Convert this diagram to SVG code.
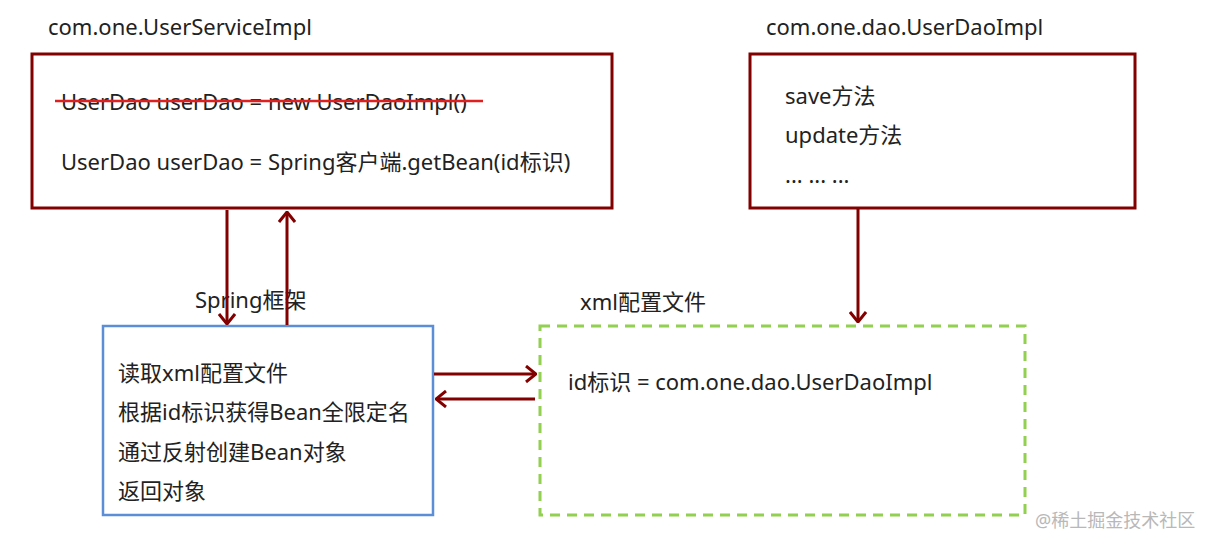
<svg xmlns="http://www.w3.org/2000/svg" width="1211" height="549" viewBox="0 0 1211 549">
<defs>
<style>
text{font-family:"Noto Sans","Noto Sans CJK SC",sans-serif;font-size:22px;fill:#222}
.red{fill:none;stroke:#820000;stroke-width:3}
.conn{fill:none;stroke:#820000;stroke-width:3}
.wm{font-size:18px;fill:#b8b8b8}
</style>
<marker id="ah" viewBox="0 0 12 18" refX="11" refY="9" markerWidth="12" markerHeight="18" markerUnits="userSpaceOnUse" orient="auto">
<path d="M1,1 L11,9 L1,17" fill="none" stroke="#820000" stroke-width="3"/>
</marker>
</defs>
<rect width="1211" height="549" fill="#fff"/>
<g id="userServiceImpl">
<text x="48" y="35">com.one.UserServiceImpl</text>
<rect class="red" x="32" y="54" width="580" height="154"/>
<text x="61" y="110">UserDao userDao = new UserDaoImpl()</text>
<line x1="55" y1="101" x2="483" y2="101" stroke="#e02020" stroke-width="2.5"/>
<text x="61" y="170">UserDao userDao = Spring客户端.getBean(id标识)</text>
</g>
<g id="userDaoImpl">
<text x="766" y="35">com.one.dao.UserDaoImpl</text>
<rect class="red" x="750" y="54" width="385" height="154"/>
<text x="785" y="104">save方法</text>
<text x="785" y="143">update方法</text>
<text x="785" y="183">... ... ...</text>
</g>
<g id="springFramework">
<text x="195" y="308">Spring框架</text>
<rect x="103" y="326" width="330" height="189" fill="none" stroke="#5b8ed6" stroke-width="2.5"/>
<text x="118" y="381">读取xml配置文件</text>
<text x="118" y="420">根据id标识获得Bean全限定名</text>
<text x="118" y="460">通过反射创建Bean对象</text>
<text x="118" y="499">返回对象</text>
</g>
<g id="xmlConfig">
<text x="580" y="310">xml配置文件</text>
<rect x="540" y="326" width="485" height="189" fill="none" stroke="#92d050" stroke-width="3" stroke-dasharray="10,7"/>
<text x="568" y="390">id标识 = com.one.dao.UserDaoImpl</text>
</g>
<g id="connectors">
<line class="conn" x1="227" y1="210" x2="227" y2="324" marker-end="url(#ah)"/>
<line class="conn" x1="287" y1="325" x2="287" y2="212" marker-end="url(#ah)"/>
<line class="conn" x1="434" y1="374" x2="536" y2="374" marker-end="url(#ah)"/>
<line class="conn" x1="535" y1="399" x2="436" y2="399" marker-end="url(#ah)"/>
<line class="conn" x1="858" y1="208" x2="858" y2="322" marker-end="url(#ah)"/>
</g>
<text class="wm" x="1035" y="527">@稀土掘金技术社区</text>
</svg>
